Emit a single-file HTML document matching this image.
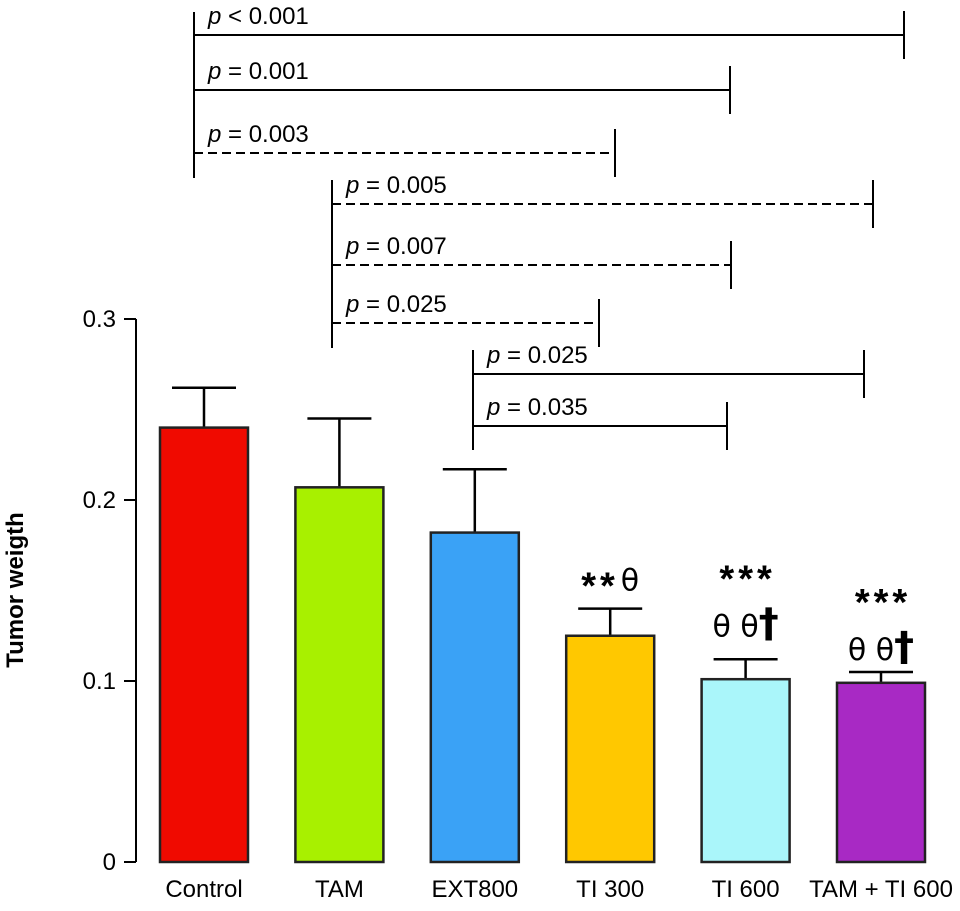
<!DOCTYPE html>
<html><head><meta charset="utf-8"><style>
html,body{margin:0;padding:0;background:#fff;width:960px;height:911px;overflow:hidden}
svg{display:block;font-family:"Liberation Sans",sans-serif}
</style></head><body>
<svg id="chart" width="960" height="911" viewBox="0 0 960 911" xmlns="http://www.w3.org/2000/svg"></svg>
<script>
const categories = ["Control","TAM","EXT800","TI 300","TI 600","TAM + TI 600"];
const values = [0.240,0.207,0.182,0.125,0.101,0.099];
const errors = [0.022,0.038,0.035,0.015,0.011,0.006];
const colors = ["#f00a00","#a8f000","#3aa2f6","#ffc800","#aaf6fa","#a829c4"];
const yTicks = [0,0.1,0.2,0.3];
const yTickLabels = ["0","0.1","0.2","0.3"];
const starLabels = ["**","***","***"];
const thetaLabels = ["θ","θ θ","θ θ"];
const daggerLabels = ["","†","†"];
const brackets = [
 {from:0,to:5,p:"< 0.001",dash:false},
 {from:0,to:4,p:"= 0.001",dash:false},
 {from:0,to:3,p:"= 0.003",dash:true},
 {from:1,to:5,p:"= 0.005",dash:true},
 {from:1,to:4,p:"= 0.007",dash:true},
 {from:1,to:3,p:"= 0.025",dash:true},
 {from:2,to:5,p:"= 0.025",dash:false},
 {from:2,to:4,p:"= 0.035",dash:false}
];
const svg=document.getElementById('chart');
const NS="http://www.w3.org/2000/svg";
function y(v){return 862-v*(862-319)/0.3;}
const x0=160, step=135.4, bw=88;
function xb(i){return x0+i*step;}
function mk(tag,attrs,parent){const e=document.createElementNS(NS,tag);for(const k in attrs)e.setAttribute(k,attrs[k]);(parent||svg).appendChild(e);return e;}
const ax=mk('line',{x1:136,y1:319,x2:136,y2:862,stroke:'#000','stroke-width':2});


yTicks.forEach((t,i)=>{
 const l=mk('line',{x1:124,y1:y(t),x2:136,y2:y(t),stroke:'#000','stroke-width':2});
 
 
 const tx=mk('text',{x:116,y:y(t)+8,'text-anchor':'end','font-size':24});
 tx.textContent=yTickLabels[i];
 
 
});
const yt=mk('text',{x:23,y:590,'font-size':24,'font-weight':'bold','text-anchor':'middle',transform:'rotate(-90 23 590)'});
yt.textContent="Tumor weigth";


const starOff=[18,80,69], thetaOff=[0,23,12];
categories.forEach((c,i)=>{
 const cx=xb(i)+bw/2;
 const e=mk('path',{d:`M${cx} ${y(values[i])} V${y(values[i]+errors[i])} M${cx-32} ${y(values[i]+errors[i])} H${cx+32}`,stroke:'#000','stroke-width':2.5,fill:'none'});
 
 
 const r=mk('rect',{x:xb(i),y:y(values[i]),width:bw,height:y(0)-y(values[i]),fill:colors[i],stroke:'#222','stroke-width':2.5});
 
 
 const t=mk('text',{x:cx,y:897,'text-anchor':'middle','font-size':24});
 t.textContent=c;
 
 
 if(i>=3){
  const k=i-3, top=y(values[i]+errors[i]);
  if(k===0){
   const s=mk('text',{x:cx,y:top-10,'text-anchor':'middle'});
   s.innerHTML='<tspan font-size="38" font-weight="bold" letter-spacing="4">'+starLabels[k]+'</tspan><tspan dy="-8" font-size="30" font-family="DejaVu Sans, sans-serif" dx="2">'+thetaLabels[k]+'</tspan>';
   
   
  } else {
   const s=mk('text',{x:cx+2,y:top-starOff[k]+12,'text-anchor':'middle','font-size':38,'font-weight':'bold','letter-spacing':4});
   s.textContent=starLabels[k];
   
   
   const s2=mk('text',{x:cx,y:top-thetaOff[k],'text-anchor':'middle'});
   s2.innerHTML='<tspan font-size="30" font-family="DejaVu Sans, sans-serif">'+thetaLabels[k]+'</tspan><tspan font-size="40" font-weight="bold" font-family="DejaVu Sans, sans-serif">'+daggerLabels[k]+'</tspan>';
   
   
  }
 }
});
const bx=[194,332,473,615,730,904];
const rightX={"0-5":904,"0-4":730,"0-3":615,"1-5":873,"1-4":731,"1-3":599,"2-5":864,"2-4":727};
const by=[35,90,153,204,265,323,374,426];
const lefts={0:[12,178],1:[180,348],2:[350,450]};
Object.keys(lefts).forEach(k=>{
 const l=mk('line',{x1:bx[k],y1:lefts[k][0],x2:bx[k],y2:lefts[k][1],stroke:'#000','stroke-width':2});
 
 
});
brackets.forEach((b,i)=>{
 const yy=by[i], lx=bx[b.from], rx=rightX[b.from+'-'+b.to];
 const h=mk('line',{x1:lx,y1:yy,x2:rx,y2:yy,stroke:'#000','stroke-width':2});
 if(b.dash)h.setAttribute('stroke-dasharray','9 5');
 
 
 const v=mk('line',{x1:rx,y1:yy-24,x2:rx,y2:yy+24,stroke:'#000','stroke-width':2});
 
 
 const t=mk('text',{x:lx+14,y:yy-11,'font-size':24});
 t.innerHTML='<tspan font-style="italic">p</tspan> '+b.p.replace('<','&lt;');
 
 
});
</script>
</body></html>
